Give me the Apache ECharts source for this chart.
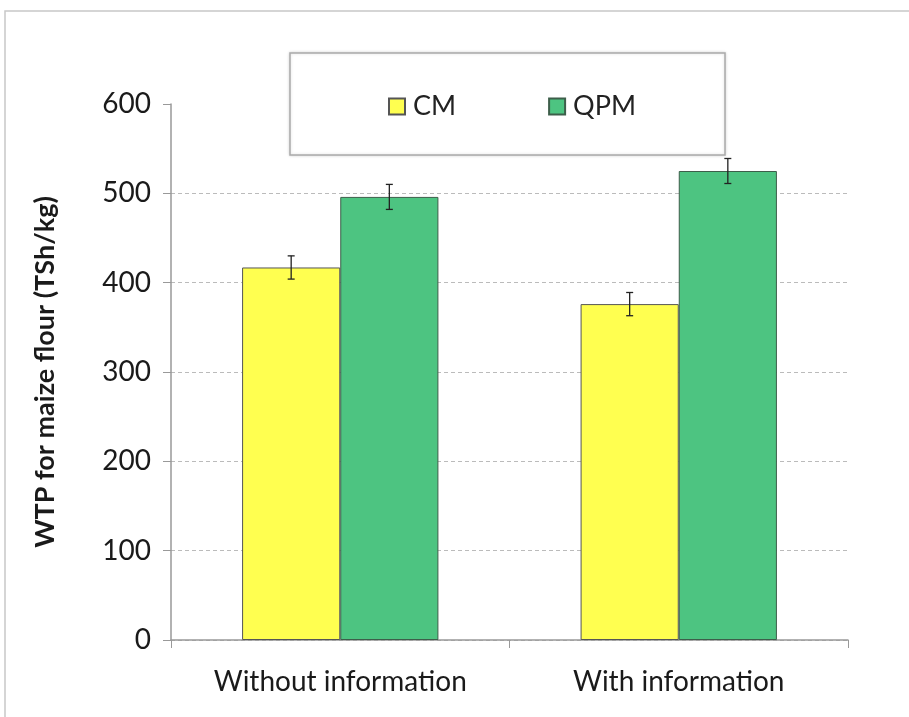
<!DOCTYPE html>
<html>
<head>
<meta charset="utf-8">
<script src="https://cdn.jsdelivr.net/npm/echarts@6/dist/echarts.min.js"></script>
<style>
  html, body { margin: 0; padding: 0; background: #fff; }
  #chart { width: 909px; height: 717px; }
</style>
</head>
<body>
<div id="chart"></div>
<script>
const categories = ['Without information', 'With information']
const seriesNames = ['CM', 'QPM']
const cmValues = [417, 376]
const qpmValues = [496, 525]
const cmErrors = [13, 13]
const qpmErrors = [14, 14]

const chart = echarts.init(document.getElementById('chart'))
const fontFamily = 'Lato, "Open Sans", sans-serif'
const gapPct = 0.42

// error bar: side -1 -> left bar, 1 -> right bar
const errorSeries = (name, values, errors, side) => ({
  name: name + '_err',
  type: 'custom',
  z: 10,
  data: values.map((v, i) => [i, v, errors[i]]),
  renderItem: (params, api) => {
    const idx = api.value(0)
    const val = api.value(1)
    const err = api.value(2)
    const band = api.size([1, 0])[0]
    const barW = band * (1 - gapPct) / 2
    const center = api.coord([idx, val])
    const x = center[0] + side * barW / 2
    const top = api.coord([idx, val + err])[1]
    const bottom = api.coord([idx, val - err])[1]
    const style = { stroke: '#222', lineWidth: 1.3 }
    return {
      type: 'group',
      children: [
        { type: 'line', shape: { x1: x, y1: top, x2: x, y2: bottom }, style },
        { type: 'line', shape: { x1: x - 3.5, y1: top, x2: x + 3.5, y2: top }, style },
        { type: 'line', shape: { x1: x - 3.5, y1: bottom, x2: x + 3.5, y2: bottom }, style }
      ]
    }
  }
})

const gridColors = ['#bbb', '#bbb', '#bbb', '#bbb', '#bbb', '#bbb', 'transparent']

chart.setOption({
  animation: false,
  backgroundColor: '#fff',
  grid: { left: 171, right: 61, top: 104, bottom: 77 },
  graphic: [
    {
      type: 'polyline',
      shape: { points: [[5, 717], [5, 11], [909, 11]] },
      style: { stroke: '#c8c8c8', lineWidth: 1.5, fill: null },
      z: 1
    },
    {
      type: 'rect',
      shape: { x: 290, y: 53, width: 435, height: 102 },
      style: { fill: '#fff', stroke: '#aaa', lineWidth: 1.5, shadowColor: 'rgba(0,0,0,0.15)', shadowBlur: 3 },
      z: 20
    }
  ],
  legend: {
    data: seriesNames,
    left: 383,
    top: 88,
    z: 30,
    itemWidth: 16,
    itemHeight: 16,
    itemGap: 92,
    icon: 'rect',
    textStyle: { fontSize: 27, color: '#222', fontFamily, padding: [0, 0, 0, 3] }
  },
  xAxis: {
    type: 'category',
    data: categories,
    axisLine: { lineStyle: { color: '#999', width: 1.5 } },
    axisTick: { show: true, length: 8, lineStyle: { color: '#999' } },
    axisLabel: { fontSize: 28, color: '#1a1a1a', fontFamily, margin: 28 }
  },
  yAxis: {
    type: 'value',
    min: 0,
    max: 600,
    interval: 100,
    name: 'WTP for maize flour (TSh/kg)',
    nameLocation: 'middle',
    nameGap: 112,
    nameTextStyle: { fontSize: 27, fontWeight: 'bold', color: '#1a1a1a', fontFamily },
    axisLine: { show: true, lineStyle: { color: '#999', width: 1.5 } },
    axisTick: { show: true, length: 8, lineStyle: { color: '#999' } },
    axisLabel: { fontSize: 28, color: '#1a1a1a', fontFamily, margin: 20 },
    splitLine: { lineStyle: { color: gridColors, type: [4, 3] } }
  },
  series: [
    {
      name: 'CM',
      type: 'bar',
      data: cmValues,
      barGap: '0%',
      barCategoryGap: '42%',
      itemStyle: { color: '#ffff50', borderColor: '#555', borderWidth: 1 }
    },
    {
      name: 'QPM',
      type: 'bar',
      data: qpmValues,
      itemStyle: { color: '#4dc481', borderColor: '#3d5e4a', borderWidth: 1 }
    },
    errorSeries('CM', cmValues, cmErrors, -1),
    errorSeries('QPM', qpmValues, qpmErrors, 1)
  ]
})
</script>
</body>
</html>
